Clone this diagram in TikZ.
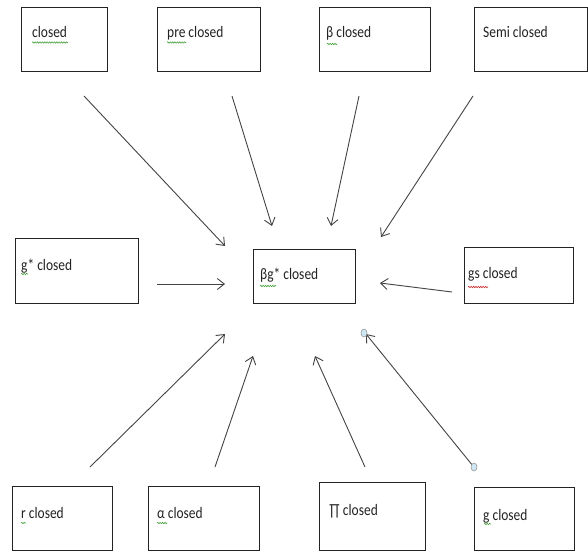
\documentclass[tikz,border=0pt]{standalone}
\usepackage{fontspec}
\setmainfont{Carlito}
\usetikzlibrary{arrows.meta,decorations.pathmorphing}
\definecolor{ink}{RGB}{35,35,35}
\definecolor{spellok}{RGB}{70,160,60}
\definecolor{spellbad}{RGB}{200,40,40}
\definecolor{handle}{RGB}{205,232,244}
% labels are set slightly condensed
\newcommand\squeezed[1]{\scalebox{0.84}[1]{#1}}
\tikzset{
  box/.style={draw=ink, line width=1.2pt, rectangle, anchor=north west, inner sep=0pt},
  lbl/.style={anchor=base west, inner sep=0pt, text=ink, font=\fontsize{16}{19}\selectfont},
  link/.style={draw=ink!85, line width=0.9pt, -{Straight Barb[length=7pt,width=11pt,line width=0.9pt]}},
  squig/.style={line width=0.6pt, decorate, decoration={snake, amplitude=0.7pt, segment length=2.4pt}},
  grip/.style={draw=gray!80, fill=handle, line width=0.6pt}
}
\begin{document}
\begin{tikzpicture}[x=1pt,y=-1pt]
\useasboundingbox (0,0) rectangle (588,552);
\fill[white] (0,0) rectangle (588,552);

% boxes
\node[box, minimum width=86pt,  minimum height=64pt] (closed) at (21,7) {};
\node[box, minimum width=103pt, minimum height=64pt] (pre)    at (157,7) {};
\node[box, minimum width=111pt, minimum height=64pt] (beta)   at (319,7) {};
\node[box, minimum width=113pt, minimum height=64pt] (semi)   at (474,7) {};
\node[box, minimum width=123pt, minimum height=65pt] (gstar)  at (15,238) {};
\node[box, minimum width=102pt, minimum height=54pt] (center) at (253,249) {};
\node[box, minimum width=109pt, minimum height=56pt] (gs)     at (464,247) {};
\node[box, minimum width=100pt, minimum height=64pt] (r)      at (12,486) {};
\node[box, minimum width=111pt, minimum height=64pt] (alpha)  at (148,486) {};
\node[box, minimum width=106pt, minimum height=68pt] (pi)     at (319,482) {};
\node[box, minimum width=100pt, minimum height=63pt] (g)      at (474,487) {};

% labels
\node[lbl] (closedT) at (32,37)  {\squeezed{closed}};
\node[lbl] (preT)    at (167,37) {\squeezed{pre closed}};
\node[lbl] (betaT)   at (326,37) {\squeezed{β closed}};
\node[lbl] (semiT)   at (483,37) {\squeezed{Semi closed}};
\node[lbl] (gstarT)  at (21,270) {\squeezed{g* closed}};
\node[lbl] (centerT) at (260,279) {\squeezed{βg* closed}};
\node[lbl] (gsT)     at (468,278) {\squeezed{gs closed}};
\node[lbl] (rT)      at (21,518) {\squeezed{r closed}};
\node[lbl] (alphaT)  at (157,518) {\squeezed{α closed}};
\node[lbl] (piT)     at (329,515) {\squeezed{∏ closed}};
\node[lbl] (gT)      at (483,520) {\squeezed{g closed}};

% spell-check underlines
\draw[squig, spellok]  (32,42.5) -- (68,42.5);
\draw[squig, spellok]  (167,42.5) -- (186,42.5);
\draw[squig, spellok]  (327,44) -- (337,44);
\draw[squig, spellok]  (21,274) -- (28,274);
\draw[squig, spellok]  (260,286) -- (276,286);
\draw[squig, spellbad] (468,287) -- (488,287);
\draw[squig, spellok]  (21,523) -- (26,523);
\draw[squig, spellok]  (157,523) -- (167,523);
\draw[squig, spellok]  (484,524) -- (491,524);

% connector end points
\coordinate (a1) at (84,96);   \coordinate (b1) at (225,246);
\coordinate (a2) at (232,96);  \coordinate (b2) at (272,226);
\coordinate (a3) at (359,96);  \coordinate (b3) at (331,226);
\coordinate (a4) at (473,96);  \coordinate (b4) at (381,237);
\coordinate (a5) at (157,284); \coordinate (b5) at (225,284);
\coordinate (a6) at (452,292); \coordinate (b6) at (380,283);
\coordinate (a7) at (90,467);  \coordinate (b7) at (225,334);
\coordinate (a8) at (215,467); \coordinate (b8) at (253,356);
\coordinate (a9) at (365,467); \coordinate (b9) at (315,356);
\coordinate (a10) at (473,466); \coordinate (b10) at (366,334);

% connectors
\draw[link] (a1) -- (b1);
\draw[link] (a2) -- (b2);
\draw[link] (a3) -- (b3);
\draw[link] (a4) -- (b4);
\draw[link] (a5) -- (b5);
\draw[link] (a6) -- (b6);
\draw[link] (a7) -- (b7);
\draw[link] (a8) -- (b8);
\draw[link] (a9) -- (b9);
\draw[link] (a10) -- (b10);

% selection handles on the last connector
\draw[grip] (364,333) ellipse (3pt and 4pt);
\draw[grip] (474,467) ellipse (3pt and 4pt);
\end{tikzpicture}
\end{document}
